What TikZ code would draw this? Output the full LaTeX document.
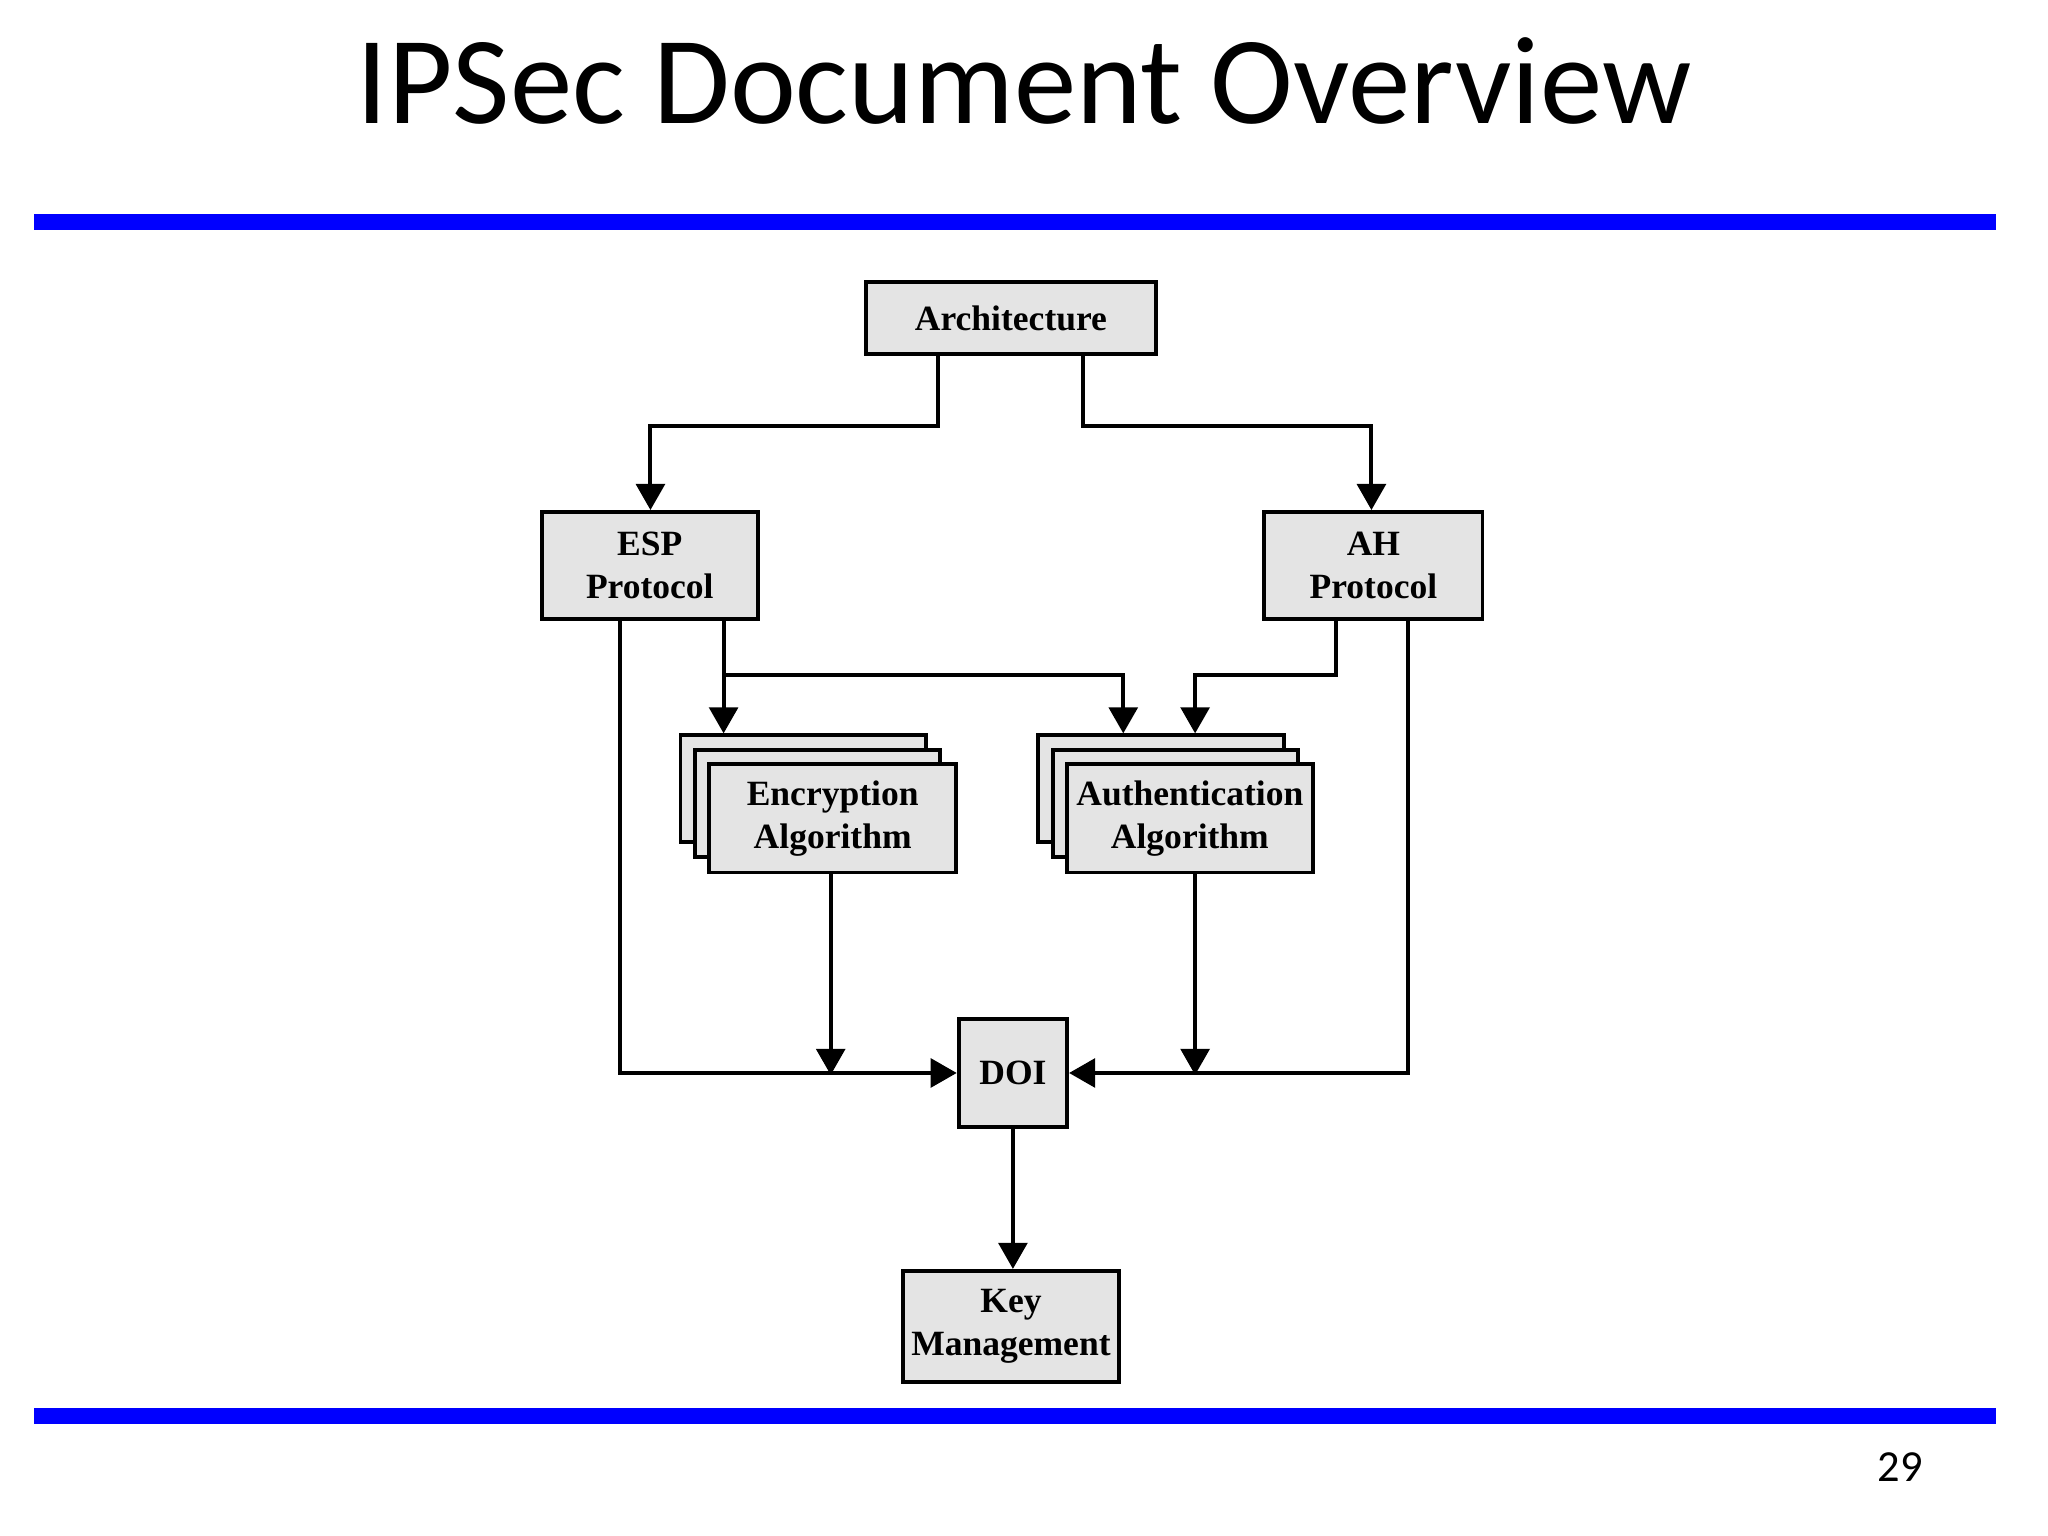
\documentclass[tikz,border=0pt]{standalone}
\usepackage{fontspec}
\setmainfont{Liberation Serif}
\newfontfamily\titlefont{Carlito}
\usetikzlibrary{arrows.meta}
\definecolor{boxgray}{RGB}{228,228,228}
\definecolor{barblue}{RGB}{0,0,255}
\begin{document}
\begin{tikzpicture}[x=0.5pt,y=-0.5pt,
  bx/.style={draw,line width=1.5pt,fill=boxgray,inner sep=0pt,align=center,font=\bfseries\fontsize{13.6}{16.5}\selectfont},
  ar/.style={line width=1.5pt,-{Triangle[length=10pt,width=11pt]}},
  ln/.style={line width=1.5pt}]
\useasboundingbox (0,0) rectangle (1568,1176);
\node[font=\titlefont\fontsize{47.8}{52}\selectfont] (title) at (784,62) {IPSec Document Overview};
\fill[barblue] (26,164) rectangle (1528,176);
\fill[barblue] (26,1078) rectangle (1528,1090);
\node[font=\titlefont\fontsize{17}{20}\selectfont] (pg) at (1455,1123) {29};
\node[bx,minimum width=111pt,minimum height=27.5pt] (arch) at (774,243.5) {Architecture};
\node[bx,minimum width=82.5pt,minimum height=41pt] (esp) at (497.5,433) {ESP\\Protocol};
\node[bx,minimum width=83.5pt,minimum height=41pt] (ah) at (1051.5,433) {AH\\Protocol};
\node[bx,minimum width=94pt,minimum height=41pt] (enc3) at (615,604) {};
\node[bx,minimum width=94pt,minimum height=41pt] (enc2) at (626,615) {};
\node[bx,minimum width=94.5pt,minimum height=41.5pt] (enc) at (637.5,626.5) {Encryption\\Algorithm};
\node[bx,minimum width=94pt,minimum height=41pt] (auth3) at (889,604) {};
\node[bx,minimum width=94pt,minimum height=41pt] (auth2) at (900,615) {};
\node[bx,minimum width=94pt,minimum height=41.5pt] (auth) at (911,626.5) {Authentication\\Algorithm};
\node[bx,minimum width=41.5pt,minimum height=41.5pt] (doi) at (775.5,821.5) {DOI};
\node[bx,minimum width=83pt,minimum height=42.5pt] (key) at (774,1015.5) {Key\\Management};
\draw[ar] (arch.south -| 718,0) |- (498,326) -- (esp.north -| 498,0);
\draw[ar] (arch.south -| 829,0) |- (1050,326) -- (ah.north -| 1050,0);
\draw[ar] (esp.south -| 554,0) -- (enc3.north -| 554,0);
\draw[ar] (554,517) -| (auth3.north -| 860,0);
\draw[ar] (ah.south -| 1023,0) |- (915,517) -- (auth3.north -| 915,0);
\draw[ar] (esp.south -| 475,0) |- (doi.west);
\draw[ar] (enc.south -| 636,0) -- (636,823);
\draw[ar] (auth.south -| 915,0) -- (915,823);
\draw[ar] (ah.south -| 1078,0) |- (doi.east);
\draw[ar] (doi.south) -- (doi.south |- key.north);
\end{tikzpicture}
\end{document}
